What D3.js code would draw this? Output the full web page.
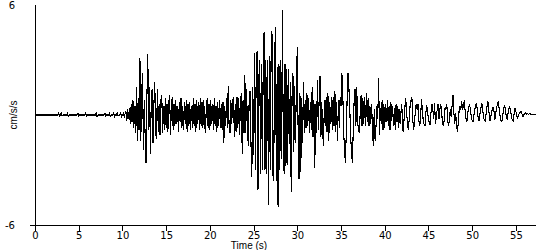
<!DOCTYPE html>
<html>
<head>
<meta charset="utf-8" />
<title>Accelerogram</title>
<script src="https://cdnjs.cloudflare.com/ajax/libs/d3/7.8.5/d3.min.js"></script>
<style>
	body { margin: 0; padding: 0; background: #fff; }
	svg { display: block; }
	.num { font-family: "DejaVu Sans", sans-serif; font-size: 10px; }
	.word { font-family: "Liberation Sans", Arial, sans-serif; font-size: 10px; }
</style>
</head>
<body>
<div id="chart"></div>
<script>
// sampled every 0.1 s starting at t = 0
var dt = 0.1;
var accel = [
 0,0,0,0,0,0,0,0,0,0,
 0,0,0,0,0,0,0,0,0,0,
 0,0,0,0,0,0,0,0.1,-0.05,0,
 0.1,-0.05,0,0,0,0,0,0.1,-0.1,0,
 0,0,0,0,0,0,0,0,0,0.1,
 -0.05,0,0,0,0,0,0,0,0.1,-0.05,
 0,0,0,0,0,0,0,0,0,0,
 0.1,-0.1,0,0,0,0,0,0,0,0,
 0.1,-0.05,0,0,0,0.1,-0.1,0,0,0,
 0.1,-0.1,0,0,0.1,-0.05,0,0,0.1,-0.1,
 0,0.1,-0.1,0.05,0.2,-0.3,0.3,-0.2,0.4,-0.5,
 0.6,-0.4,0.8,-0.7,0.5,-1.0,1.5,-1.4,0.9,-0.8,
 3.1,-1.4,1.2,2.3,-1.9,0.8,-1.2,-2.6,1.0,3.3,
 -0.8,1.5,-2.1,0.9,1.4,-1.5,0.6,1.8,-1.0,-1.3,
 1.4,-0.9,0.6,-1.1,0.8,1.1,-1.0,0.5,-0.8,0.9,
 -0.7,0.6,-0.9,0.7,1.1,-1.1,0.4,1.0,-0.8,0.6,
 -0.6,0.8,-0.5,0.5,-0.9,0.7,-0.4,0.9,-0.7,0.5,
 -0.8,0.7,-0.5,0.8,-0.9,0.6,-0.6,0.7,-0.8,0.5,
 -0.7,0.9,-0.6,0.6,-0.9,0.8,-0.5,0.7,-0.8,0.9,
 -0.6,0.7,-0.7,0.8,-0.5,-1.0,0.6,0.9,-0.7,0.6,
 -0.8,0.8,-0.5,0.6,-0.8,0.9,-0.6,0.5,-0.9,0.7,
 -0.6,0.8,-0.7,0.6,-0.8,0.7,-1.5,0.5,-0.6,0.9,
 -0.7,1.6,-0.6,-1.0,0.8,-0.5,0.7,1.0,-1.2,0.6,
 -0.9,1.0,-0.7,0.9,-1.1,0.7,1.2,-2.1,0.8,-1.0,
 2.2,-1.0,1.4,-0.8,-1.7,1.0,1.3,-1.5,-3.4,1.5,
 -2.2,3.4,-3.0,2.4,3.5,-4.1,2.0,3.0,-3.2,2.8,
 -3.0,2.6,4.5,-3.0,3.0,-3.2,3.0,-4.9,3.2,-3.0,
 3.0,4.6,-3.2,-3.6,3.0,4.8,-3.6,2.6,-5.0,2.8,
 -3.0,3.0,-2.4,5.7,-2.0,-3.2,2.8,-2.8,2.5,-2.7,
 2.5,-1.6,1.8,-4.2,1.0,2.3,-2.0,1.6,-1.5,2.0,
 3.7,-1.2,-3.5,1.2,-3.1,0.9,-1.5,1.8,-1.0,0.8,
 -0.7,1.2,-0.6,0.9,-1.0,0.7,-0.8,1.5,-1.2,0.8,
 -2.9,0.6,-1.0,1.9,-0.8,0.9,2.1,-1.2,0.7,-1.0,
 -1.7,0.8,-0.6,1.0,-0.9,1.2,-1.4,0.7,-0.5,1.0,
 -0.8,1.0,-0.6,1.3,-0.9,0.7,-1.4,0.8,-0.7,1.0,
 0.5,2.3,1.2,-0.8,-2.0,-2.6,-1.0,0.9,2.3,1.5,
 0.4,-1.2,-2.0,-2.6,-0.8,0.8,1.4,-0.6,1.5,-0.4,
 -0.8,-1.0,0.2,1.1,-0.6,0.9,-0.5,1.0,-0.6,1.2,
 -0.4,0.9,-0.6,0.5,-0.5,0.6,-0.9,-1.7,0.3,-1.4,
 -0.6,0.5,-0.2,2.0,-1.1,0.4,-0.5,0.8,-0.8,0.6,
 -0.7,0.6,-0.4,0.8,-0.6,0.5,-0.8,0.7,-0.3,0.5,
 -0.6,0.4,-0.8,0.6,-0.4,0.5,-0.7,0.3,-0.5,0.6,
 0.2,-0.9,-0.3,0.4,0.9,0.2,-0.5,-0.8,-0.2,0.5,
 0.8,1.0,-0.2,-0.8,-0.4,0.2,0.6,0.3,0.6,-0.3,
 -0.6,-0.2,0.85,0.3,-0.3,-0.5,-0.6,0.1,0.55,0.2,
 -0.3,-0.4,-0.55,0.2,0.6,0.3,-0.2,0.65,-0.5,-0.1,
 0.3,0.6,-0.2,0.3,0.6,0.2,-0.4,-0.6,-0.3,0.4,
 0.3,0.6,-0.3,-0.6,-0.2,0.3,-0.1,0.5,1.1,0.2,
 -0.5,0.1,-0.4,-0.9,-0.5,0.2,0.5,0.3,0.75,0.3,
 0.5,0.8,0.2,-0.2,-0.35,0.1,0.4,0.6,0.3,-0.1,
 -0.3,-0.35,0.0,0.3,0.5,0.65,0.2,-0.2,-0.35,0.1,
 0.4,0.65,0.3,-0.1,-0.3,-0.35,0.1,0.5,0.75,0.3,
 -0.35,-0.2,0.1,0.3,0.45,0.2,-0.25,0.1,0.4,0.6,
 0.75,0.3,-0.1,-0.3,-0.35,0.0,0.3,0.55,0.3,-0.1,
 -0.25,0.1,0.35,0.45,0.2,-0.1,-0.3,-0.35,0.1,0.4,
 0.2,-0.05,-0.15,0.0,0.1,0.15,0.2,0.05,-0.1,0.0,
 0.05,0.1,0.05,0.1,0.05,0.05,0.1,0.05,0.05,0.05,
 0.05,0.05,0.05,0.05
];
var xTicks = [0, 5, 10, 15, 20, 25, 30, 35, 40, 45, 50, 55];
var yLabels = [6, -6];
var xTitle = "Time (s)";
var yTitle = "cm/s/s";

var width = 550, height = 250;
var tMax = (accel.length - 1) * dt;

var x = d3.scaleLinear().domain([0, tMax]).range([35, 536]);
var y = d3.scaleLinear().domain([-6, 6]).range([225, 5]);

var svg = d3.select("#chart").append("svg").attr("width", width).attr("height", height);

// trace
var line = d3.line()
    .x(function(d, i) { return x(i * dt); })
    .y(function(d) { return y(d); });

svg.append("path")
    .datum(accel)
    .attr("d", line)
    .attr("fill", "none")
    .attr("stroke", "#000")
    .attr("stroke-width", 1.1)
    .attr("shape-rendering", "crispEdges");

// x axis
var xAxis = d3.axisBottom(x).tickValues(xTicks).tickSize(5).tickSizeOuter(0).tickPadding(1);
var gx = svg.append("g").attr("transform", "translate(0," + (y(-6) + 0.5) + ")").call(xAxis);
gx.select(".domain").attr("d", "M30,0H536").attr("stroke", "#000").attr("shape-rendering", "crispEdges");
gx.selectAll(".tick line").attr("stroke", "#000").attr("shape-rendering", "crispEdges");
gx.selectAll(".tick text").attr("class", "num").attr("fill", "#000").attr("font-family", null).attr("font-size", null);
gx.attr("font-family", null).attr("font-size", null);

// y axis line
svg.append("line")
    .attr("x1", x(0) + 0.5).attr("x2", x(0) + 0.5)
    .attr("y1", y(6)).attr("y2", y(-6))
    .attr("stroke", "#000")
    .attr("shape-rendering", "crispEdges");

svg.selectAll(".ylab")
    .data(yLabels)
    .enter().append("text")
    .attr("class", "num")
    .attr("x", 15)
    .attr("y", function(d) { return y(d) + 3.5; })
    .attr("text-anchor", "end")
    .text(function(d) { return d; });

svg.append("text")
    .attr("class", "word")
    .attr("transform", "translate(17," + y(0) + ") rotate(-90)")
    .attr("text-anchor", "middle")
    .text(yTitle);

svg.append("text")
    .attr("class", "word")
    .attr("x", 249)
    .attr("y", 249)
    .attr("text-anchor", "middle")
    .text(xTitle);
</script>
</body>
</html>
